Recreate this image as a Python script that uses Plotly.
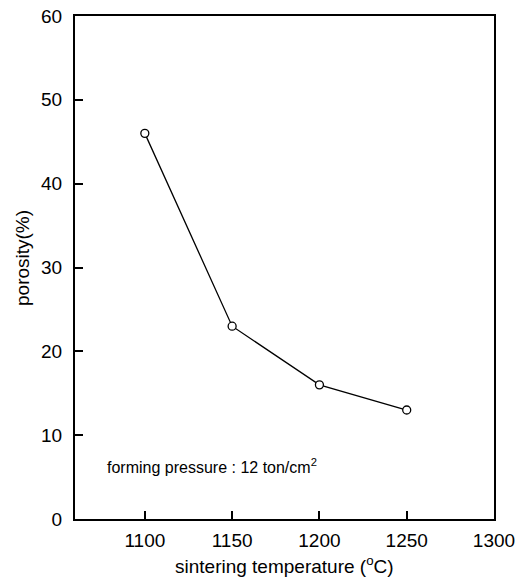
import plotly.graph_objects as go

temperature = [1100, 1150, 1200, 1250]
porosity = [46, 23, 16, 13]
x_ticks = [1100, 1150, 1200, 1250, 1300]
y_ticks = [0, 10, 20, 30, 40, 50, 60]

font_family = "Liberation Sans, Arial, sans-serif"

W, H = 517, 579
M_L, M_R, M_T, M_B = 75, 23, 16, 60
plot_w = W - M_L - M_R
plot_h = H - M_T - M_B

fig = go.Figure()
fig.add_trace(go.Scatter(
    x=temperature, y=porosity, mode="lines+markers",
    line=dict(color="black", width=1.3),
    marker=dict(symbol="circle", size=8, color="white",
                line=dict(width=1.3, color="black")),
    showlegend=False,
))

axis_common = dict(
    showline=True, linecolor="black", linewidth=2, mirror=True,
    ticks="inside", ticklen=8, tickwidth=1.5, tickcolor="black",
    showgrid=False, zeroline=False, automargin=False,
    tickfont=dict(family=font_family, size=19, color="black"),
)

fig.update_xaxes(
    range=[1060, 1300], tickvals=x_ticks, ticklabelstandoff=3,
    **axis_common,
)
fig.update_yaxes(
    range=[0, 60], tickvals=y_ticks, ticklabelstandoff=7,
    **axis_common,
)

# axis titles as annotations, positioned in pixels relative to the plot area
fig.add_annotation(
    x=(22 - M_L) / plot_w, y=(H - M_B - 258) / plot_h,
    xref="paper", yref="paper", xanchor="center", yanchor="middle",
    showarrow=False, text="porosity(%)", textangle=-90,
    font=dict(family=font_family, size=19, color="black"),
)
fig.add_annotation(
    x=(284 - M_L) / plot_w, y=-(565 - (H - M_B)) / plot_h,
    xref="paper", yref="paper", xanchor="center", yanchor="middle",
    showarrow=False, text="sintering temperature (<sup>o</sup>C)",
    font=dict(family=font_family, size=19, color="black"),
)

fig.add_annotation(
    x=1077, y=6.3, xref="x", yref="y", xanchor="left", yanchor="middle",
    text="forming pressure : 12 ton/cm<sup>2</sup>", showarrow=False,
    font=dict(family=font_family, size=16, color="black"),
)

fig.update_layout(
    width=W, height=H,
    margin=dict(l=M_L, r=M_R, t=M_T, b=M_B),
    plot_bgcolor="white", paper_bgcolor="white",
)

fig.write_html("out.html")
